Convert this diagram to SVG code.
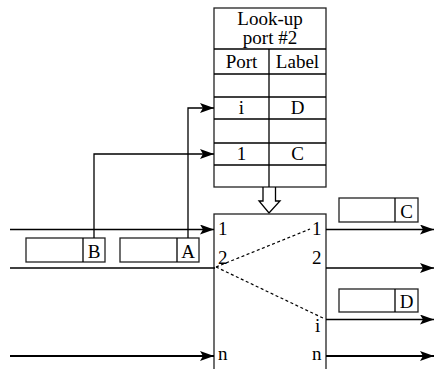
<svg xmlns="http://www.w3.org/2000/svg" width="434" height="369" viewBox="0 0 434 369">
<style>
.ln{stroke:#000;stroke-width:1.3;fill:none}
.thk{stroke:#000;stroke-width:2;fill:none}
.bx{stroke:#222;stroke-width:1.3;fill:#fff}
.dot{stroke:#000;stroke-width:1.2;stroke-dasharray:3,2.5;fill:none}
.t{font-family:'Liberation Serif','Times New Roman',Tinos,'DejaVu Serif',serif;font-size:19px;fill:#000}
.m{text-anchor:middle}
</style>
<defs>
<marker id="ah" markerWidth="14" markerHeight="10" refX="14" refY="5" orient="auto" markerUnits="userSpaceOnUse">
<path d="M0,0 L14,5 L0,10 L3,5 z" fill="#000"/>
</marker>
</defs>
<rect width="434" height="369" fill="#fff"/>
<g id="lookup-table">
<rect class="bx" x="214" y="8" width="112" height="179"/>
<line class="ln" x1="214" y1="49" x2="326" y2="49"/>
<line class="ln" x1="214" y1="74" x2="326" y2="74"/>
<line class="ln" x1="214" y1="97" x2="326" y2="97"/>
<line class="ln" x1="214" y1="119" x2="326" y2="119"/>
<line class="ln" x1="214" y1="143" x2="326" y2="143"/>
<line class="ln" x1="214" y1="165" x2="326" y2="165"/>
<line class="ln" x1="269" y1="49" x2="269" y2="187"/>
<text class="t m" font-family="Liberation Serif, serif" x="270" y="25">Look-up</text>
<text class="t m" font-family="Liberation Serif, serif" x="270" y="44">port #2</text>
<text class="t m" font-family="Liberation Serif, serif" x="241.5" y="68">Port</text>
<text class="t m" font-family="Liberation Serif, serif" x="297.5" y="68">Label</text>
<text class="t m" font-family="Liberation Serif, serif" x="241.5" y="114">i</text>
<text class="t m" font-family="Liberation Serif, serif" x="297.5" y="114">D</text>
<text class="t m" font-family="Liberation Serif, serif" x="241.5" y="160">1</text>
<text class="t m" font-family="Liberation Serif, serif" x="297.5" y="160">C</text>
</g>
<g id="hollow-arrow">
<path class="ln" d="M263,187 L263,201 L259,201 L269,213 L280,201 L275.5,201 L275.5,187" fill="#fff"/>
</g>
<g id="switch">
<rect class="bx" x="214" y="214" width="112" height="170"/>
<text class="t" font-family="Liberation Serif, serif" x="218" y="235">1</text>
<text class="t" font-family="Liberation Serif, serif" x="218" y="264">2</text>
<text class="t" font-family="Liberation Serif, serif" x="218" y="360">n</text>
<text class="t" font-family="Liberation Serif, serif" x="312" y="235">1</text>
<text class="t" font-family="Liberation Serif, serif" x="312" y="264">2</text>
<text class="t" font-family="Liberation Serif, serif" x="315" y="332">i</text>
<text class="t" font-family="Liberation Serif, serif" x="312" y="360">n</text>
</g>
<g id="packet-B">
<rect class="bx" x="26" y="238" width="79" height="24"/>
<line class="ln" x1="83" y1="238" x2="83" y2="262"/>
<text class="t m" font-family="Liberation Serif, serif" x="94" y="258">B</text>
</g>
<g id="packet-A">
<rect class="bx" x="120" y="238" width="79" height="24"/>
<line class="ln" x1="177" y1="238" x2="177" y2="262"/>
<text class="t m" font-family="Liberation Serif, serif" x="188" y="258">A</text>
</g>
<g id="packet-C">
<rect class="bx" x="339" y="198" width="79" height="24"/>
<line class="ln" x1="395" y1="198" x2="395" y2="222"/>
<text class="t m" font-family="Liberation Serif, serif" x="406.5" y="218">C</text>
</g>
<g id="packet-D">
<rect class="bx" x="339" y="289" width="79" height="23"/>
<line class="ln" x1="395" y1="289" x2="395" y2="312"/>
<text class="t m" font-family="Liberation Serif, serif" x="406.5" y="308">D</text>
</g>
<g id="connectors">
<line class="ln" x1="10" y1="229.5" x2="214" y2="229.5" marker-end="url(#ah)"/>
<line class="ln" x1="10" y1="268" x2="215" y2="268"/>
<line class="thk" x1="10" y1="356" x2="214" y2="356" marker-end="url(#ah)"/>
<polyline class="ln" points="94,238 94,154 214,154" marker-end="url(#ah)"/>
<polyline class="ln" points="188,238 188,108 214,108" marker-end="url(#ah)"/>
<line class="dot" x1="216" y1="267" x2="310" y2="229"/>
<line class="dot" x1="216" y1="267" x2="325" y2="319"/>
<line class="ln" x1="326" y1="229.5" x2="434" y2="229.5" marker-end="url(#ah)"/>
<line class="ln" x1="326" y1="268" x2="434" y2="268" marker-end="url(#ah)"/>
<line class="ln" x1="326" y1="319.5" x2="434" y2="319.5" marker-end="url(#ah)"/>
<line class="thk" x1="326" y1="356" x2="434" y2="356" marker-end="url(#ah)"/>
</g>
</svg>
